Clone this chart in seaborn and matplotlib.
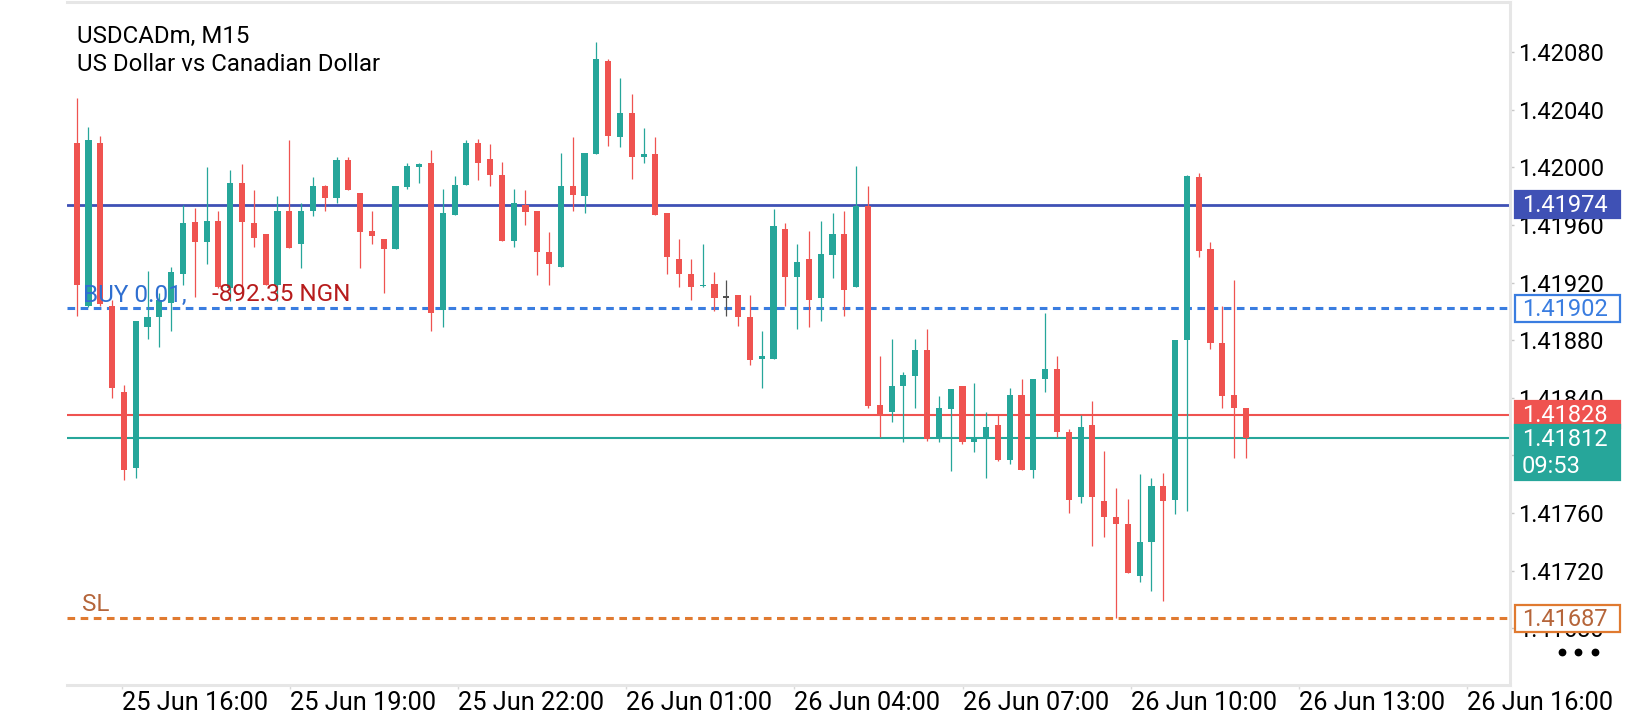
import numpy as np
import pandas as pd
import seaborn as sns
import matplotlib.pyplot as plt
from matplotlib.patches import Rectangle
from matplotlib.lines import Line2D
from matplotlib.transforms import IdentityTransform, blended_transform_factory

# USDCADm M15 candles
opens = [1.42017, 1.41904, 1.42017, 1.41904, 1.41844, 1.41791, 1.41889, 1.41896, 1.41906, 1.41926,
         1.41962, 1.41948, 1.41963, 1.41916, 1.41989, 1.41961, 1.41954, 1.41918, 1.41970, 1.41947,
         1.41970, 1.41987, 1.41979, 1.42005, 1.41982, 1.41956, 1.41950, 1.41943, 1.41986, 1.42000,
         1.42003, 1.41901, 1.41967, 1.41988, 1.42017, 1.42006, 1.41995, 1.41949, 1.41974, 1.41970,
         1.41941, 1.41931, 1.41987, 1.41980, 1.42009, 1.42074, 1.42021, 1.42038, 1.42007, 1.42009,
         1.41968, 1.41936, 1.41926, 1.41918, 1.41919, 1.41910, 1.41911, 1.41896, 1.41867, 1.41867,
         1.41957, 1.41924, 1.41936, 1.41909, 1.41939, 1.41954, 1.41917, 1.41973, 1.41835, 1.41830,
         1.41848, 1.41855, 1.41873, 1.41812, 1.41832, 1.41848, 1.41809, 1.41811, 1.41821, 1.41797,
         1.41842, 1.41790, 1.41853, 1.41860, 1.41816, 1.41771, 1.41821, 1.41768, 1.41757, 1.41752,
         1.41716, 1.41740, 1.41779, 1.41769, 1.41880, 1.41993, 1.41943, 1.41878, 1.41842, 1.41833]
highs = [1.42048, 1.42028, 1.42022, 1.41908, 1.41849, 1.41893, 1.41928, 1.41913, 1.41931, 1.41974,
         1.41972, 1.42000, 1.41970, 1.41998, 1.42002, 1.41984, 1.41954, 1.41980, 1.42019, 1.41975,
         1.41993, 1.41988, 1.42007, 1.42007, 1.41982, 1.41970, 1.41950, 1.41987, 1.42003, 1.42003,
         1.42012, 1.41985, 1.41994, 1.42019, 1.42020, 1.42016, 1.42004, 1.41985, 1.41984, 1.41970,
         1.41955, 1.42010, 1.42021, 1.42010, 1.42087, 1.42075, 1.42062, 1.42051, 1.42027, 1.42021,
         1.41968, 1.41950, 1.41936, 1.41947, 1.41927, 1.41922, 1.41911, 1.41911, 1.41886, 1.41971,
         1.41961, 1.41947, 1.41956, 1.41963, 1.41968, 1.41970, 1.42001, 1.41987, 1.41869, 1.41881,
         1.41858, 1.41881, 1.41888, 1.41841, 1.41846, 1.41848, 1.41850, 1.41830, 1.41828, 1.41847,
         1.41853, 1.41853, 1.41899, 1.41869, 1.41818, 1.41828, 1.41838, 1.41803, 1.41777, 1.41770,
         1.41787, 1.41784, 1.41788, 1.41880, 1.41995, 1.41996, 1.41948, 1.41904, 1.41922, 1.41833]
lows = [1.41897, 1.41903, 1.41904, 1.41840, 1.41783, 1.41784, 1.41881, 1.41875, 1.41886, 1.41918,
        1.41910, 1.41933, 1.41916, 1.41907, 1.41913, 1.41945, 1.41918, 1.41907, 1.41944, 1.41930,
        1.41966, 1.41970, 1.41975, 1.41984, 1.41930, 1.41947, 1.41913, 1.41943, 1.41985, 1.41989,
        1.41886, 1.41889, 1.41967, 1.41988, 1.41991, 1.41987, 1.41949, 1.41945, 1.41960, 1.41925,
        1.41918, 1.41931, 1.41970, 1.41968, 1.42009, 1.42015, 1.42014, 1.41992, 1.42003, 1.41967,
        1.41926, 1.41917, 1.41908, 1.41917, 1.41900, 1.41897, 1.41890, 1.41863, 1.41847, 1.41867,
        1.41904, 1.41888, 1.41889, 1.41893, 1.41923, 1.41897, 1.41917, 1.41833, 1.41813, 1.41823,
        1.41809, 1.41833, 1.41810, 1.41809, 1.41789, 1.41808, 1.41802, 1.41784, 1.41796, 1.41794,
        1.41790, 1.41784, 1.41844, 1.41813, 1.41760, 1.41767, 1.41737, 1.41743, 1.41687, 1.41718,
        1.41712, 1.41706, 1.41699, 1.41759, 1.41761, 1.41938, 1.41874, 1.41833, 1.41798, 1.41798]
closes = [1.41918, 1.42019, 1.41905, 1.41847, 1.41790, 1.41893, 1.41896, 1.41908, 1.41927, 1.41961,
          1.41948, 1.41963, 1.41917, 1.41989, 1.41962, 1.41951, 1.41918, 1.41970, 1.41944, 1.41970,
          1.41987, 1.41979, 1.42005, 1.41984, 1.41955, 1.41952, 1.41943, 1.41987, 1.42001, 1.42002,
          1.41899, 1.41968, 1.41988, 1.42017, 1.42003, 1.41995, 1.41949, 1.41975, 1.41969, 1.41941,
          1.41933, 1.41987, 1.41981, 1.42010, 1.42075, 1.42022, 1.42038, 1.42007, 1.42009, 1.41967,
          1.41938, 1.41926, 1.41917, 1.41919, 1.41909, 1.41910, 1.41896, 1.41866, 1.41869, 1.41959,
          1.41924, 1.41934, 1.41908, 1.41940, 1.41954, 1.41915, 1.41973, 1.41834, 1.41828, 1.41848,
          1.41856, 1.41873, 1.41811, 1.41833, 1.41846, 1.41809, 1.41812, 1.41820, 1.41797, 1.41842,
          1.41790, 1.41853, 1.41860, 1.41816, 1.41769, 1.41820, 1.41771, 1.41757, 1.41752, 1.41718,
          1.41740, 1.41779, 1.41768, 1.41880, 1.41994, 1.41942, 1.41878, 1.41841, 1.41833, 1.41812]

time_labels = ["25 Jun 16:00", "25 Jun 19:00", "25 Jun 22:00", "26 Jun 01:00", "26 Jun 04:00",
               "26 Jun 07:00", "26 Jun 10:00", "26 Jun 13:00", "26 Jun 16:00"]
price_ticks = [1.41680, 1.41720, 1.41760, 1.41800, 1.41840, 1.41880,
               1.41920, 1.41960, 1.42000, 1.42040, 1.42080]

alert_level = 1.41974
entry_price = 1.41902
stop_loss = 1.41687
ask_price = 1.41828
bid_price = 1.41812
countdown = "09:53"
order_text = "BUY 0.01,"
profit_text = "-892.35 NGN"

UP = "#26a69a"
DOWN = "#ef5350"
DOJI = "#505050"
INDIGO = "#3f51b5"
BLUE = "#3a7de0"
ORANGE = "#e07a30"
BROWN = "#b5653a"
FRAME = "#e6e6e6"

df = pd.DataFrame({"open": opens, "high": highs, "low": lows, "close": closes})
df["x"] = np.arange(len(df))
df["color"] = np.where(df.close > df.open, UP, np.where(df.close < df.open, DOWN, DOJI))

sns.set_theme(style="white")
plt.rcParams['font.family'] = ['Roboto', 'DejaVu Sans']

fig = plt.figure(figsize=(16.4, 7.2), dpi=100)
ax = fig.add_axes([67 / 1640, 35 / 720, 1443 / 1640, 683 / 720])

ax.set_xlim(-0.82, 121.36)
ax.set_ylim(1.416405, 1.421148)

# candles
min_body = 0.0000105
body_h = np.maximum((df.close - df.open).abs(), min_body)
body_b = np.minimum(df.open, df.close) - np.where((df.close - df.open).abs() < min_body, min_body / 2, 0)
ax.vlines(df.x, df.low, df.high, colors=df.color, linewidth=0.9, zorder=3)
ax.bar(df.x, body_h, bottom=body_b, width=0.52, color=df.color, linewidth=0, zorder=4)

# price lines
ax.axhline(alert_level, color=INDIGO, lw=2.0, zorder=2)
ax.axhline(ask_price, color=DOWN, lw=1.5, zorder=2)
ax.axhline(bid_price, color=UP, lw=1.5, zorder=2)
ax.axhline(entry_price, color=BLUE, lw=2.2, dashes=(2.5, 1.8), zorder=2)
ax.axhline(stop_loss, color=ORANGE, lw=2.2, dashes=(2.5, 1.8), zorder=2)

lbl = blended_transform_factory(ax.transAxes, ax.transData)
ax.annotate(order_text, xy=(0.0109, entry_price), xycoords=lbl, xytext=(0, 5),
            textcoords="offset points", va="baseline", fontsize=17.5, color="#2f6fd0", zorder=6)
ax.annotate(profit_text, xy=(0.1003, entry_price), xycoords=lbl, xytext=(0, 5),
            textcoords="offset points", va="baseline", fontsize=17.5, color="#b71c1c", zorder=6)
ax.annotate("SL", xy=(0.0103, stop_loss), xycoords=lbl, xytext=(0, 5),
            textcoords="offset points", va="baseline", fontsize=17.5, color=BROWN, zorder=6)

# axes styling
for side in ["top", "right", "bottom"]:
    ax.spines[side].set_color(FRAME)
    ax.spines[side].set_linewidth(2.2)
ax.spines["left"].set_visible(False)

ax.yaxis.tick_right()
ax.set_yticks(price_ticks)
ax.set_yticklabels([f"{p:.5f}" for p in price_ticks])
ax.tick_params(axis="y", right=True, left=False, length=3, width=1, color="#c8c8c8",
               pad=3, labelsize=17, labelcolor="black")

tick_pos = [3.836 + 14.234 * k for k in range(len(time_labels))]
ax.set_xticks(tick_pos)
ax.set_xticklabels(time_labels, ha="left")
ax.tick_params(axis="x", bottom=True, length=3, width=1, color="#d8d8d8",
               pad=1.5, labelsize=18.3, labelcolor="black")
ax.grid(False)

# title
px = IdentityTransform()
fig.text(77.3, 720 - 42.7, "USDCADm, M15", transform=px, fontsize=17.3, va="baseline", color="black")
fig.text(77.3, 720 - 70.7, "US Dollar vs Canadian Dollar", transform=px, fontsize=17.3,
         va="baseline", color="black")


def tag(price, text, face, edge, tcolor, extra=None):
    y = ax.transData.transform((0, price))[1]
    h = 27 if extra is None else 55
    top = y + 13.5
    fig.add_artist(Rectangle((1515, top - h), 105, h, transform=px, facecolor=face,
                             edgecolor=edge, linewidth=1.6, zorder=10))
    fig.text(1522, y - 1, text, transform=px, fontsize=17, va="center", ha="left",
             color=tcolor, zorder=11)
    if extra is not None:
        fig.text(1522, y - 28.5, extra, transform=px, fontsize=17, va="center", ha="left",
                 color=tcolor, zorder=11)


tag(alert_level, f"{alert_level:.5f}", INDIGO, INDIGO, "white")
tag(entry_price, f"{entry_price:.5f}", "white", BLUE, BLUE)
tag(stop_loss, f"{stop_loss:.5f}", "white", ORANGE, BROWN)
tag(ask_price, f"{ask_price:.5f}", DOWN, DOWN, "white")
tag(bid_price, f"{bid_price:.5f}", UP, UP, "white", extra=countdown)

fig.add_artist(Line2D([1561.7, 1578.3, 1595], [68.3, 68.3, 68.3], transform=px, ls="",
                      marker="o", ms=4.6, color="black", zorder=10))

fig.savefig("out.png", dpi=100)
